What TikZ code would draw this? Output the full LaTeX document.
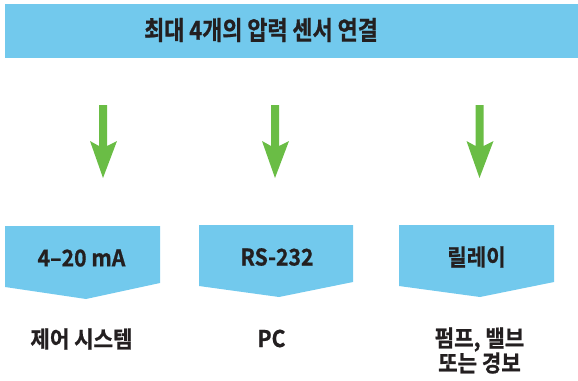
\documentclass[tikz,border=0pt]{standalone}
\usepackage{fontspec}
\setmainfont{Noto Sans CJK KR}[BoldFont={Noto Sans CJK KR Bold}]
\newfontfamily\titlefont{Noto Sans CJK KR Bold}[FakeStretch=0.84,FakeBold=0.8]
\newfontfamily\lblfont{Noto Sans CJK KR Bold}[FakeStretch=0.92,FakeBold=0.8]
\definecolor{boxblue}{HTML}{72C9ED}
\definecolor{arrowgreen}{HTML}{6ABD45}
\definecolor{txt}{HTML}{231F20}
\begin{document}
\begin{tikzpicture}[x=1pt,y=-1pt,
  lbl/.style={text=txt,font=\lblfont\fontsize{23}{25}\selectfont,inner sep=0pt,align=center},
  banner/.style={fill=boxblue},
  greenarrow/.style={fill=arrowgreen}]
\useasboundingbox (0,0) rectangle (578,380);
% top bar
\fill[banner] (5,4) rectangle (578,58);
\node[lbl,font=\titlefont\fontsize{26}{28}\selectfont] (title) at (261,30) {최대 4개의 압력 센서 연결};
% arrows
\foreach \c/\n in {103/a1,275/a2,479.5/a3}{
  \coordinate (\n) at (\c,178);
  \fill[greenarrow] (\c-4,105) -- (\c+4,105) -- (\c+4,146) -- (\c+14,141) -- (\n) -- (\c-13,141) -- (\c-4,146) -- cycle;
}
% boxes
\fill[banner] (5,226) -- (160,226) -- (160,283) -- (86,299) -- (5,287) -- cycle;
\fill[banner] (199,225) -- (353,225) -- (353,282) -- (279,297) -- (199,286) -- cycle;
\fill[banner] (399,225) -- (554,225) -- (554,282) -- (480,297) -- (399,286) -- cycle;
\node[lbl] (b1) at (81.5,258) {4–20 mA};
\node[lbl] (b2) at (277,257) {RS-232};
\node[lbl] (b3) at (476.5,257) {릴레이};
% outputs
\node[lbl] (o1) at (81.5,339) {제어 시스템};
\node[lbl] (o2) at (271.5,338.5) {PC};
\node[lbl] (o3) at (479.5,350.5) {펌프, 밸브\\또는 경보};
\end{tikzpicture}
\end{document}
